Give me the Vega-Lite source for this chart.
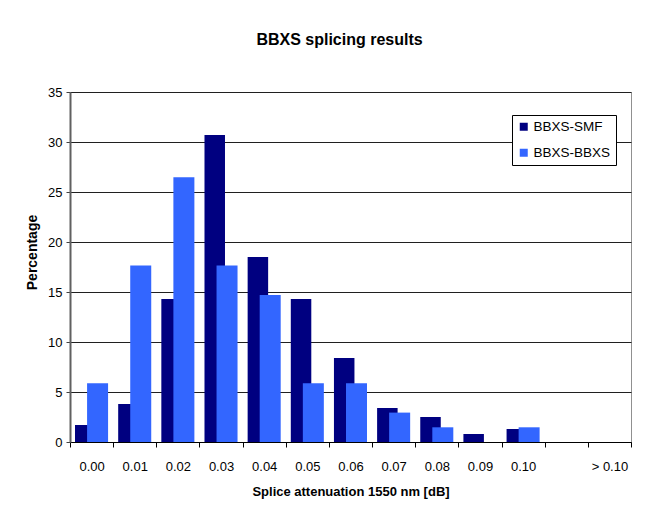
{
  "$schema": "https://vega.github.io/schema/vega-lite/v6.json",
  "width": 561,
  "height": 350,
  "autosize": {"type": "none"},
  "padding": {"left": 70, "top": 92, "right": 38, "bottom": 82},
  "background": "white",
  "title": {
    "text": "BBXS splicing results",
    "font": "Liberation Sans",
    "fontSize": 16,
    "fontWeight": "bold",
    "color": "black",
    "anchor": "middle",
    "dx": -11,
    "offset": 38
  },
  "data": {
    "values": [
      {"bin": "0.00", "series": "BBXS-SMF", "pct": 1.7},
      {"bin": "0.01", "series": "BBXS-SMF", "pct": 3.8},
      {"bin": "0.02", "series": "BBXS-SMF", "pct": 14.3},
      {"bin": "0.03", "series": "BBXS-SMF", "pct": 30.7},
      {"bin": "0.04", "series": "BBXS-SMF", "pct": 18.5},
      {"bin": "0.05", "series": "BBXS-SMF", "pct": 14.3},
      {"bin": "0.06", "series": "BBXS-SMF", "pct": 8.4},
      {"bin": "0.07", "series": "BBXS-SMF", "pct": 3.4},
      {"bin": "0.08", "series": "BBXS-SMF", "pct": 2.5},
      {"bin": "0.09", "series": "BBXS-SMF", "pct": 0.8},
      {"bin": "0.10", "series": "BBXS-SMF", "pct": 1.3},
      {"bin": "> 0.10", "series": "BBXS-SMF", "pct": 0},
      {"bin": "0.00", "series": "BBXS-BBXS", "pct": 5.88},
      {"bin": "0.01", "series": "BBXS-BBXS", "pct": 17.65},
      {"bin": "0.02", "series": "BBXS-BBXS", "pct": 26.47},
      {"bin": "0.03", "series": "BBXS-BBXS", "pct": 17.65},
      {"bin": "0.04", "series": "BBXS-BBXS", "pct": 14.71},
      {"bin": "0.05", "series": "BBXS-BBXS", "pct": 5.88},
      {"bin": "0.06", "series": "BBXS-BBXS", "pct": 5.88},
      {"bin": "0.07", "series": "BBXS-BBXS", "pct": 2.94},
      {"bin": "0.08", "series": "BBXS-BBXS", "pct": 1.47},
      {"bin": "0.09", "series": "BBXS-BBXS", "pct": 0},
      {"bin": "0.10", "series": "BBXS-BBXS", "pct": 1.47},
      {"bin": "> 0.10", "series": "BBXS-BBXS", "pct": 0}
    ]
  },
  "encoding": {
    "x": {
      "field": "bin",
      "type": "nominal",
      "scale": {
        "domain": ["0.00", "0.01", "0.02", "0.03", "0.04", "0.05", "0.06", "0.07", "0.08", "0.09", "0.10", " ", "> 0.10"],
        "paddingInner": 0,
        "paddingOuter": 0
      },
      "axis": {
        "title": "Splice attenuation 1550 nm [dB]",
        "labelAngle": 0,
        "tickBand": "extent",
        "tickSize": 5,
        "tickColor": "black",
        "domainColor": "black",
        "labelPadding": 13,
        "labelFont": "Liberation Sans",
        "labelFontSize": 13,
        "labelColor": "black",
        "titleFont": "Liberation Sans",
        "titleFontSize": 13,
        "titleFontWeight": "bold",
        "titleColor": "black",
        "titlePadding": 12,
        "grid": false
      }
    },
    "y": {
      "field": "pct",
      "type": "quantitative",
      "scale": {"domain": [0, 35], "nice": false},
      "axis": {
        "title": "Percentage",
        "values": [0, 5, 10, 15, 20, 25, 30, 35],
        "tickSize": 4,
        "tickColor": "#404040",
        "domainColor": "#606060",
        "domainWidth": 2,
        "labelPadding": 4,
        "labelFont": "Liberation Sans",
        "labelFontSize": 13,
        "labelColor": "black",
        "titleFont": "Liberation Sans",
        "titleFontSize": 14,
        "titleFontWeight": "bold",
        "titleColor": "black",
        "titlePadding": 8,
        "titleY": 160,
        "grid": true,
        "gridColor": "#202020",
        "gridOpacity": 1
      }
    },
    "color": {
      "field": "series",
      "type": "nominal",
      "scale": {"domain": ["BBXS-SMF", "BBXS-BBXS"], "range": ["#000080", "#3366ff"]},
      "legend": {
        "title": null,
        "orient": "none",
        "legendX": 442,
        "legendY": 23,
        "symbolType": "square",
        "symbolSize": 64,
        "symbolStrokeWidth": 0,
        "symbolOpacity": 1,
        "labelFont": "Liberation Sans",
        "labelFontSize": 13.5,
        "labelColor": "black",
        "labelOffset": 3,
        "rowPadding": 11,
        "padding": 5,
        "fillColor": "white",
        "strokeColor": "black"
      }
    }
  },
  "layer": [
    {
      "transform": [{"filter": "datum.series === 'BBXS-SMF'"}],
      "mark": {"type": "bar", "width": 20.5, "xOffset": -6.3}
    },
    {
      "transform": [{"filter": "datum.series === 'BBXS-BBXS'"}],
      "mark": {"type": "bar", "width": 21, "xOffset": 6}
    }
  ],
  "config": {
    "view": {"stroke": "#909090", "strokeWidth": 1},
    "bar": {"opacity": 1}
  }
}
